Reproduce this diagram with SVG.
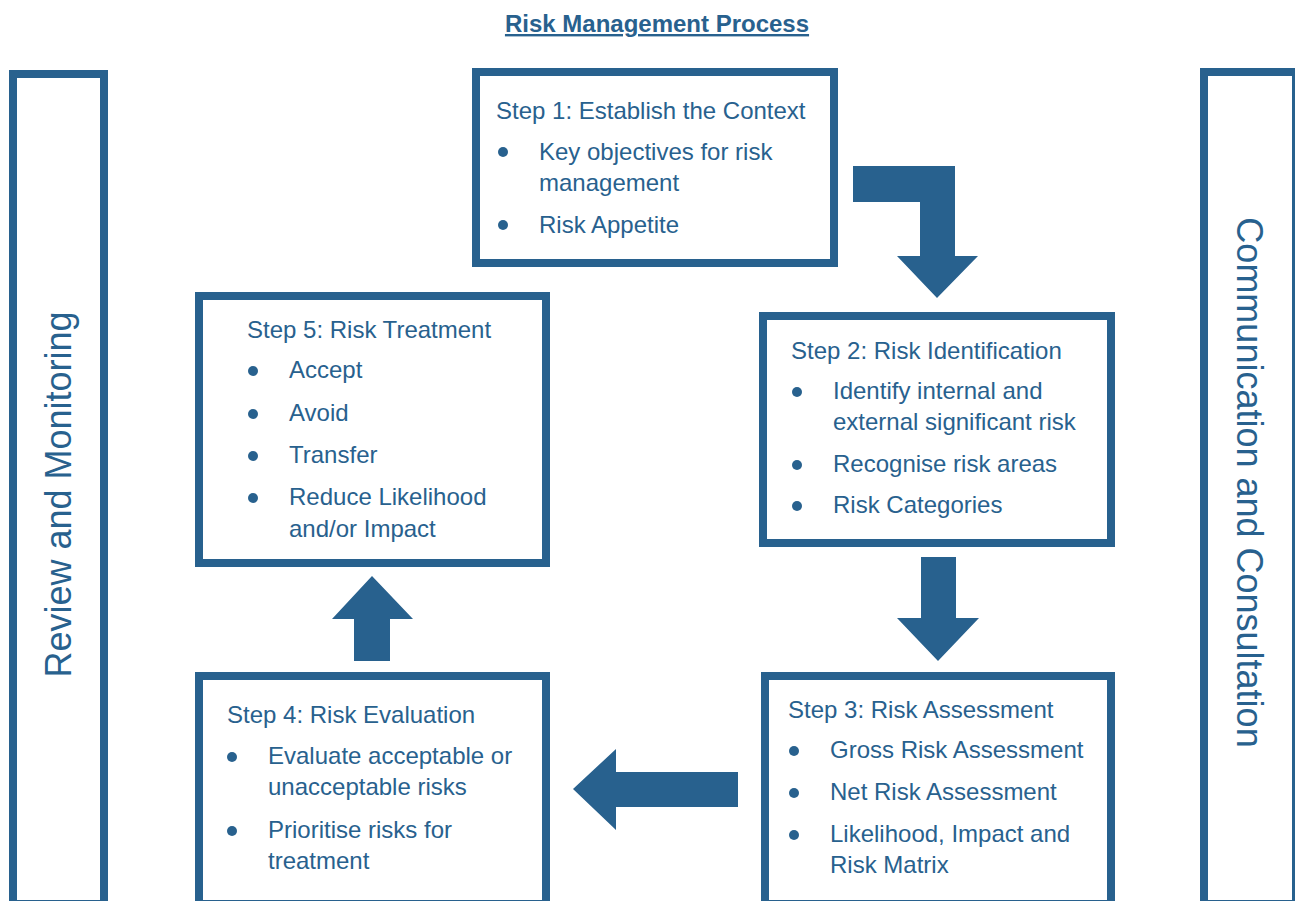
<svg xmlns="http://www.w3.org/2000/svg" width="1295" height="901" viewBox="0 0 1295 901">
<style>
.box{fill:#ffffff;stroke:#28618e;stroke-width:8}
.t{font-family:"Liberation Sans",Arial,Helvetica,sans-serif;font-size:24px;fill:#28618e}
.side{font-family:"Liberation Sans",Arial,Helvetica,sans-serif;font-size:36px;fill:#28618e}
.title{font-family:"Liberation Sans",Arial,Helvetica,sans-serif;font-size:24px;font-weight:bold;fill:#28618e;text-decoration:underline}
.dot{fill:#28618e}
.arrow{fill:#28618e}
</style>
<rect width="1295" height="901" fill="#ffffff"/>
<text class="title" x="657" y="32" text-anchor="middle">Risk Management Process</text>

<g id="review">
<rect class="box" x="13" y="74" width="91" height="830"/>
<text class="side" transform="translate(71,494.5) rotate(-90)" text-anchor="middle">Review and Monitoring</text>
</g>

<g id="communication">
<rect class="box" x="1204" y="72" width="92" height="832"/>
<text class="side" transform="translate(1237,482.5) rotate(90)" text-anchor="middle">Communication and Consultation</text>
</g>

<g id="step1">
<rect class="box" x="476" y="72" width="358" height="191"/>
<text class="t" x="496" y="119">Step 1: Establish the Context</text>
<circle class="dot" cx="503" cy="152" r="5"/>
<text class="t" x="539" y="160">Key objectives for risk</text>
<text class="t" x="539" y="191">management</text>
<circle class="dot" cx="503" cy="225" r="5"/>
<text class="t" x="539" y="233">Risk Appetite</text>
</g>

<g id="step2">
<rect class="box" x="763" y="316" width="348" height="227"/>
<text class="t" x="791" y="359">Step 2: Risk Identification</text>
<circle class="dot" cx="797" cy="392" r="5"/>
<text class="t" x="833" y="399">Identify internal and</text>
<text class="t" x="833" y="430">external significant risk</text>
<circle class="dot" cx="797" cy="465" r="5"/>
<text class="t" x="833" y="472">Recognise risk areas</text>
<circle class="dot" cx="797" cy="506" r="5"/>
<text class="t" x="833" y="513">Risk Categories</text>
</g>

<g id="step3">
<rect class="box" x="765" y="676" width="346" height="228"/>
<text class="t" x="788" y="718">Step 3: Risk Assessment</text>
<circle class="dot" cx="794" cy="751" r="5"/>
<text class="t" x="830" y="758">Gross Risk Assessment</text>
<circle class="dot" cx="794" cy="793" r="5"/>
<text class="t" x="830" y="800">Net Risk Assessment</text>
<circle class="dot" cx="794" cy="835" r="5"/>
<text class="t" x="830" y="842">Likelihood, Impact and</text>
<text class="t" x="830" y="873">Risk Matrix</text>
</g>

<g id="step4">
<rect class="box" x="199" y="676" width="347" height="228"/>
<text class="t" x="227" y="723">Step 4: Risk Evaluation</text>
<circle class="dot" cx="232" cy="757" r="5"/>
<text class="t" x="268" y="764">Evaluate acceptable or</text>
<text class="t" x="268" y="795">unacceptable risks</text>
<circle class="dot" cx="232" cy="831" r="5"/>
<text class="t" x="268" y="838">Prioritise risks for</text>
<text class="t" x="268" y="869">treatment</text>
</g>

<g id="step5">
<rect class="box" x="199" y="296" width="347" height="267"/>
<text class="t" x="247" y="338">Step 5: Risk Treatment</text>
<circle class="dot" cx="253" cy="371" r="5"/>
<text class="t" x="289" y="378">Accept</text>
<circle class="dot" cx="253" cy="414" r="5"/>
<text class="t" x="289" y="421">Avoid</text>
<circle class="dot" cx="253" cy="456" r="5"/>
<text class="t" x="289" y="463">Transfer</text>
<circle class="dot" cx="253" cy="498" r="5"/>
<text class="t" x="289" y="505">Reduce Likelihood</text>
<text class="t" x="289" y="537">and/or Impact</text>
</g>

<g id="connectors">
<polygon class="arrow" points="853,166 955,166 955,256 978,256 937,298 897,256 920,256 920,202 853,202"/>
<polygon class="arrow" points="921,557 956,557 956,618 979,618 938,661 897,618 921,618"/>
<polygon class="arrow" points="738,772 738,807 616,807 616,830 573,789 616,749 616,772"/>
<polygon class="arrow" points="354,661 390,661 390,619 413,619 372,576 332,619 354,619"/>
</g>
</svg>
